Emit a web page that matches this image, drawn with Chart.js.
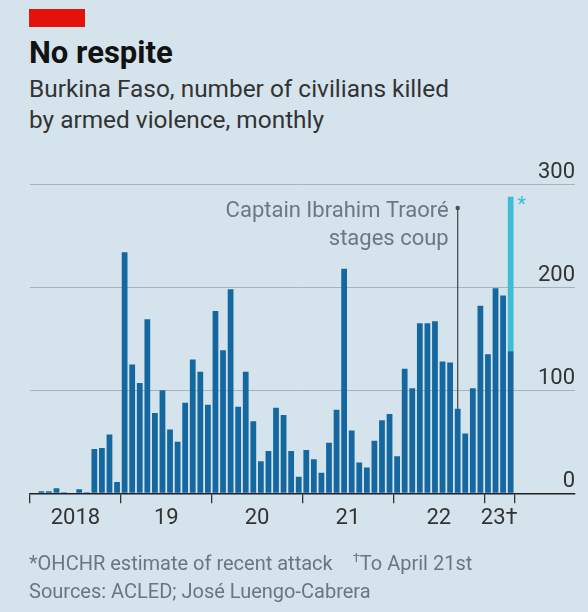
<!DOCTYPE html>
<html>
<head>
<meta charset="utf-8">
<script src="https://cdn.jsdelivr.net/npm/chart.js@4.4.1/dist/chart.umd.min.js"></script>
<style>
    html, body { margin: 0; padding: 0; }
    body {
        width: 588px;
        height: 612px;
        background: #d5e3ec;
        position: relative;
        overflow: hidden;
        font-family: 'Roboto', sans-serif;
    }
    .tag { position: absolute; left: 29px; top: 9px; width: 56px; height: 18px; background: #e3120b; }
    .title { position: absolute; left: 29px; top: 37px; font-size: 31px; line-height: 31px; font-weight: 700; color: #121212; }
    .subtitle { position: absolute; left: 29px; top: 73px; font-size: 24.4px; line-height: 31px; color: #333; }
    .notes { position: absolute; left: 29px; top: 544px; font-size: 20px; line-height: 28px; color: #6a7680; }
    .notes .gap { margin-left: 20px; }
    .chart-box { position: absolute; left: 0; top: 150px; width: 588px; height: 400px; }
</style>
</head>
<body>
<div class="tag"></div>
<div class="title">No respite</div>
<div class="subtitle">Burkina Faso, number of civilians killed<br>by armed violence, monthly</div>
<div class="chart-box"><canvas id="killedChart"></canvas></div>
<div class="notes">*OHCHR estimate of recent attack<span class="gap"><sup style="font-size:13px">†</sup>To April 21st</span><br>Sources: ACLED; José Luengo-Cabrera</div>

<script>
// Monthly civilian deaths, Jan 2018 to Apr 2023 (ACLED)
const killed = [
    0, 2, 2, 5, 1, 0, 4, 1, 43, 44, 57, 11,
    234, 125, 107, 169, 78, 100, 62, 50, 88, 130, 118, 86,
    177, 139, 198, 84, 118, 70, 31, 41, 83, 76, 41, 16,
    42, 33, 20, 49, 81, 218, 61, 30, 25, 51, 71, 77,
    36, 121, 102, 165, 165, 167, 128, 127, 82, 58, 102, 182,
    135, 199, 192, 138
];
// OHCHR estimate of the April 2023 attack, stacked on top of the last month
const ohchrMonth = 63;
const ohchrExtra = [150];

const yearBounds = [0, 12, 24, 36, 48, 60, 64];
const yearLabelPos = [6, 18, 30, 42, 54, 62];
const yearLabels = ['2018', '19', '20', '21', '22', '23†'];
const yTicks = [0, 100, 200, 300];

const coupMonth = 56;        // Sep 2022
const coupLabelLevel = 277;  // height of the annotation marker
const coupText = ['Captain Ibrahim Traoré', 'stages coup'];

const DARK = '#14679f';
const CYAN = '#3fbdd3';

Chart.defaults.font.family = "'Roboto', sans-serif";

const annotate = {
    id: 'annotate',
    afterDatasetsDraw(chart) {
        const { ctx, scales: { x, y } } = chart;
        const cx = x.getPixelForValue(coupMonth + 0.5);
        const top = y.getPixelForValue(coupLabelLevel);
        const bottom = y.getPixelForValue(killed[coupMonth]);

        ctx.save();
        ctx.strokeStyle = '#4a4f55';
        ctx.lineWidth = 1.3;
        ctx.beginPath();
        ctx.moveTo(cx, top);
        ctx.lineTo(cx, bottom);
        ctx.stroke();
        ctx.fillStyle = '#4a4f55';
        ctx.beginPath();
        ctx.arc(cx, top, 2.2, 0, Math.PI * 2);
        ctx.fill();

        ctx.fillStyle = '#6c7781';
        ctx.font = "22px 'Roboto', sans-serif";
        ctx.textAlign = 'right';
        ctx.textBaseline = 'middle';
        ctx.fillText(coupText[0], cx - 9, top + 4);
        ctx.fillText(coupText[1], cx - 9, top + 32);

        // asterisk next to the OHCHR estimate
        const sx = x.getPixelForValue(ohchrMonth + 1);
        const sy = y.getPixelForValue(killed[ohchrMonth] + ohchrExtra[0]);
        ctx.fillStyle = CYAN;
        ctx.font = "20px 'Roboto', sans-serif";
        ctx.textAlign = 'left';
        ctx.textBaseline = 'top';
        ctx.fillText('*', sx + 3, sy - 1);
        ctx.restore();
    }
};

new Chart(document.getElementById('killedChart'), {
    type: 'bar',
    data: {
        datasets: [
            {
                label: 'ACLED',
                data: killed.map((v, i) => ({ x: i + 0.5, y: v })),
                backgroundColor: DARK,
                barPercentage: 0.95,
                categoryPercentage: 0.8
            },
            {
                label: 'OHCHR',
                data: ohchrExtra.map(v => ({ x: ohchrMonth + 0.5, y: v })),
                backgroundColor: CYAN,
                barPercentage: 0.95,
                categoryPercentage: 0.8
            }
        ]
    },
    options: {
        responsive: true,
        maintainAspectRatio: false,
        animation: false,
        layout: { padding: { left: 30, right: 13, top: 34.3, bottom: 14.7 } },
        plugins: { legend: { display: false }, tooltip: { enabled: false } },
        scales: {
            x: {
                type: 'linear',
                position: 'bottom',
                min: 0,
                max: 72,
                offset: false,
                stacked: true,
                weight: 0,
                z: 1,
                afterBuildTicks: (scale) => { scale.ticks = yearBounds.map(v => ({ value: v })); },
                afterFit: (scale) => { scale.height = 10; },
                ticks: { display: false },
                grid: { offset: false, drawOnChartArea: false, drawTicks: true, tickLength: 10, color: '#333', lineWidth: 1.3 },
                border: { display: true, color: '#222', width: 1.5 }
            },
            xLabels: {
                type: 'linear',
                position: 'bottom',
                min: 0,
                max: 72,
                offset: false,
                weight: 1,
                afterBuildTicks: (scale) => { scale.ticks = yearLabelPos.map(v => ({ value: v })); },
                afterFit: (scale) => { scale.height = 32; },
                ticks: {
                    autoSkip: false,
                    maxRotation: 0,
                    padding: 2,
                    color: '#333',
                    font: { size: 22 },
                    callback: (val, i) => yearLabels[i]
                },
                grid: { display: false, drawTicks: false, offset: false },
                border: { display: false }
            },
            y: {
                position: 'right',
                min: 0,
                max: 300,
                stacked: true,
                afterBuildTicks: (scale) => { scale.ticks = yTicks.map(v => ({ value: v })); },
                afterFit: (scale) => { scale.width = 0; },
                ticks: {
                    mirror: true,
                    padding: 0,
                    labelOffset: -12,
                    color: '#333',
                    font: { size: 22 }
                },
                grid: {
                    drawTicks: false,
                    color: (c) => c.tick && c.tick.value === 0 ? 'rgba(0,0,0,0)' : '#a6b3bc',
                    lineWidth: 1
                },
                border: { display: false }
            }
        }
    },
    plugins: [annotate]
});
</script>
</body>
</html>
